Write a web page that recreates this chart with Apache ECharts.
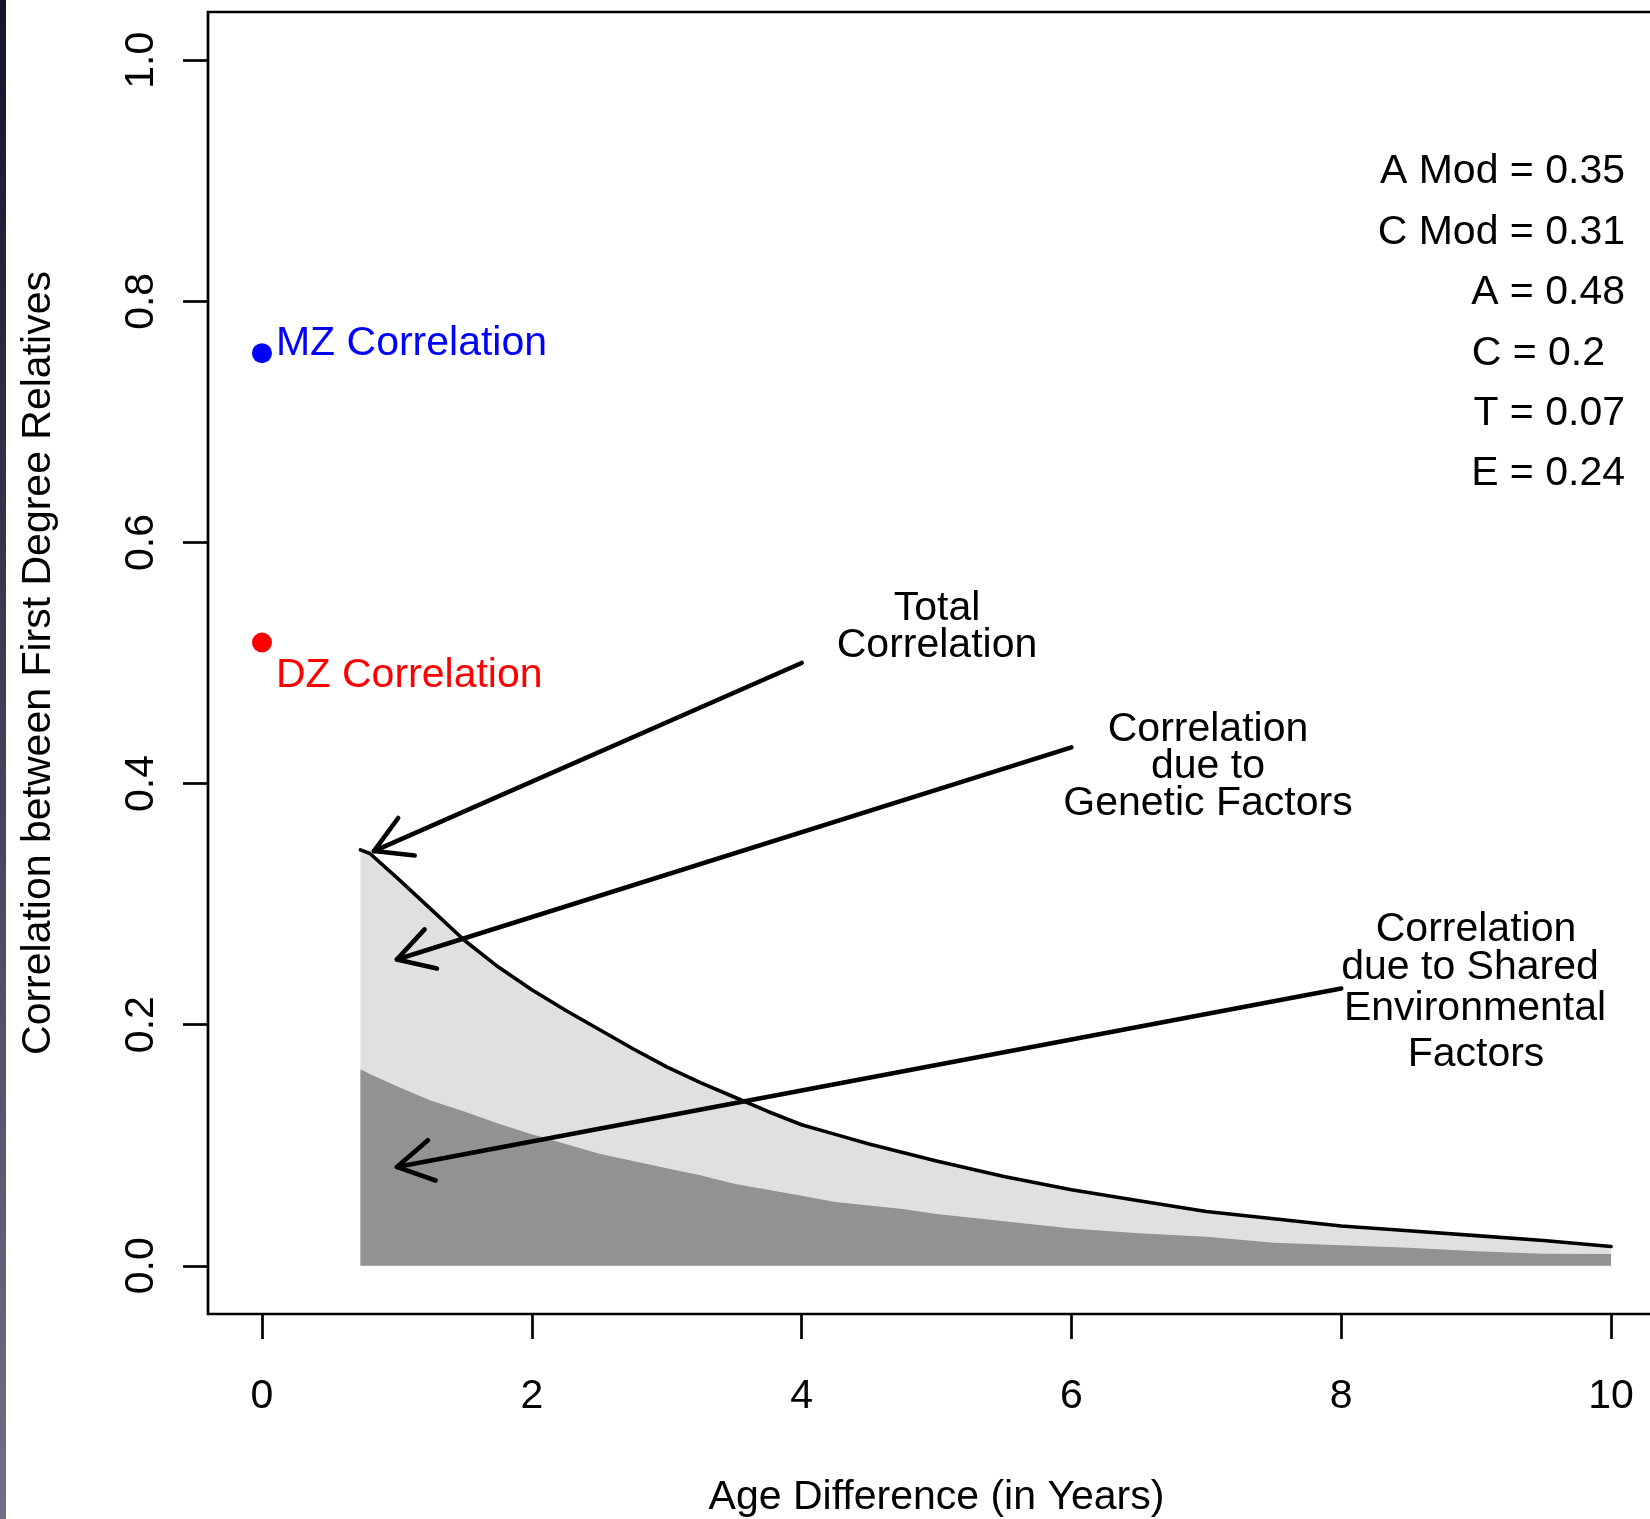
<!DOCTYPE html>
<html><head><meta charset="utf-8">
<script src="https://cdn.jsdelivr.net/npm/echarts@6/dist/echarts.min.js"></script>
<style>html,body{margin:0;padding:0;background:#fff}#chart{width:1650px;height:1519px}</style>
</head><body><div id="chart"></div>
<script>
// ---- data ----
const ageX = [0.73, 0.8, 1.0, 1.25, 1.5, 1.75, 2.0, 2.25, 2.5, 2.75, 3.0, 3.25, 3.5, 3.75, 4.0, 4.25, 4.5, 4.75, 5.0, 5.5, 6.0, 6.5, 7.0, 7.5, 8.0, 8.5, 9.0, 9.5, 10.0];
const totalCorr = [0.345, 0.342, 0.322, 0.296, 0.270, 0.248, 0.229, 0.212, 0.196, 0.180, 0.165, 0.152, 0.140, 0.128, 0.117, 0.109, 0.101, 0.094, 0.087, 0.074, 0.063, 0.054, 0.045, 0.039, 0.033, 0.029, 0.025, 0.021, 0.016];
const sharedEnvCorr = [0.163, 0.159, 0.149, 0.137, 0.128, 0.118, 0.109, 0.101, 0.093, 0.087, 0.081, 0.075, 0.068, 0.063, 0.058, 0.053, 0.050, 0.047, 0.043, 0.037, 0.031, 0.027, 0.024, 0.019, 0.017, 0.015, 0.012, 0.010, 0.0097];
const mzPoint = [0, 0.757];
const dzPoint = [0, 0.517];
const xTicks = [0, 2, 4, 6, 8, 10];
const yTicks = [0, 0.2, 0.4, 0.6, 0.8, 1.0];
const yTickLabels = ['0.0', '0.2', '0.4', '0.6', '0.8', '1.0'];
const paramLabels = ['A Mod = 0.35', 'C Mod = 0.31', 'A = 0.48', 'C = 0.2', 'T = 0.07', 'E = 0.24'];
// arrows: [fromX, fromY, toX, toY]
const arrows = [[4, 0.5, 0.83, 0.344], [6, 0.43, 1.0, 0.254], [8, 0.23, 1.0, 0.082]];

const FONT = '"Liberation Sans", Arial, Helvetica, sans-serif';
const FS = 41;

const totalData = ageX.map((x, i) => [x, totalCorr[i]]);
const sharedData = ageX.map((x, i) => [x, sharedEnvCorr[i]]);

const chart = echarts.init(document.getElementById('chart'), null, {renderer: 'canvas'});

function txt(text, x, y, align) {
  return {type: 'text', x: x, y: y, z: 100,
    style: {text: text, fontSize: FS, fontFamily: FONT, fill: '#000', align: align || 'center', verticalAlign: 'middle'}};
}

const paramY = [172, 232.5, 293, 354, 414, 474];
const paramRight = [1625, 1625, 1625, 1605, 1625, 1625];

const graphics = [
  {type: 'rect', left: 0, top: 0, z: 100, shape: {width: 6, height: 1519},
   style: {fill: new echarts.graphic.LinearGradient(0, 0, 0, 1, [{offset: 0, color: '#15152a'}, {offset: 1, color: '#707084'}])}},
  txt('Total', 937, 609), txt('Correlation', 937, 646),
  txt('Correlation', 1208, 730), txt('due to', 1208, 767), txt('Genetic Factors', 1208, 804),
  txt('Correlation', 1476, 930), txt('due to Shared', 1470, 968), txt('Environmental', 1475, 1009), txt('Factors', 1476, 1055)
];
paramLabels.forEach((t, i) => graphics.push(txt(t, paramRight[i], paramY[i], 'right')));

chart.setOption({
  animation: false,
  backgroundColor: '#fff',
  grid: {left: 208, top: 12, width: 1457, height: 1302, show: true, borderColor: '#000', borderWidth: 2.7,
         backgroundColor: 'transparent', containLabel: false, outerBoundsMode: 'none'},
  xAxis: {
    type: 'value', min: -0.4, max: 10.4,
    name: 'Age Difference (in Years)', nameLocation: 'middle', nameGap: 163,
    nameTextStyle: {fontSize: FS, fontFamily: FONT, color: '#000'},
    axisLine: {show: false, onZero: false},
    axisTick: {show: true, length: 25, lineStyle: {color: '#000', width: 2.7}, customValues: xTicks},
    axisLabel: {show: true, margin: 62, fontSize: FS, fontFamily: FONT, color: '#000', customValues: xTicks, formatter: v => String(v)},
    splitLine: {show: false}
  },
  yAxis: {
    type: 'value', min: -0.04, max: 1.04,
    name: 'Correlation between First Degree Relatives', nameLocation: 'middle', nameGap: 149,
    nameTextStyle: {fontSize: FS, fontFamily: FONT, color: '#000'},
    axisLine: {show: false, onZero: false},
    axisTick: {show: true, length: 25, lineStyle: {color: '#000', width: 2.7}, customValues: yTicks},
    axisLabel: {show: true, rotate: 90, margin: 46, fontSize: FS, fontFamily: FONT, color: '#000', customValues: yTicks,
      formatter: v => { const i = yTicks.findIndex(t => Math.abs(t - v) < 1e-6); return i >= 0 ? yTickLabels[i] : v.toFixed(1); }},
    splitLine: {show: false}
  },
  series: [
    {type: 'line', data: totalData, showSymbol: false, symbol: 'none', lineStyle: {width: 0, opacity: 0},
     areaStyle: {color: '#e0e0e0', opacity: 1}, z: 2, silent: true},
    {type: 'line', data: sharedData, showSymbol: false, symbol: 'none', lineStyle: {width: 0, opacity: 0},
     areaStyle: {color: '#929292', opacity: 1}, z: 3, silent: true},
    {type: 'line', data: totalData, showSymbol: false, symbol: 'none',
     lineStyle: {color: '#000', width: 3.6, cap: 'round', join: 'round'}, z: 4, silent: true},
    {type: 'custom', data: arrows, z: 5, silent: true, clip: false,
     encode: {x: [0, 2], y: [1, 3]},
     renderItem: function (params, api) {
       const p1 = api.coord([api.value(0), api.value(1)]);
       const p2 = api.coord([api.value(2), api.value(3)]);
       const ang = Math.atan2(p1[1] - p2[1], p1[0] - p2[0]);
       const L = 41, a = Math.PI / 6;
       const h1 = [p2[0] + L * Math.cos(ang + a), p2[1] + L * Math.sin(ang + a)];
       const h2 = [p2[0] + L * Math.cos(ang - a), p2[1] + L * Math.sin(ang - a)];
       return {type: 'group', children: [
         {type: 'line', shape: {x1: p1[0], y1: p1[1], x2: p2[0], y2: p2[1]}, style: {stroke: '#000', lineWidth: 4.6, lineCap: 'round'}},
         {type: 'polyline', shape: {points: [h1, p2, h2]}, style: {stroke: '#000', lineWidth: 4.6, lineCap: 'round', lineJoin: 'round', fill: null}}
       ]};
     }},
    {type: 'scatter', data: [mzPoint], symbol: 'circle', symbolSize: 20, itemStyle: {color: '#0000ff', opacity: 1}, z: 6, silent: true,
     label: {show: true, position: 'right', distance: 4, offset: [0, -9], formatter: 'MZ Correlation', color: '#0000ff', opacity: 1, fontSize: FS, fontFamily: FONT}},
    {type: 'scatter', data: [dzPoint], symbol: 'circle', symbolSize: 20, itemStyle: {color: '#ff0000', opacity: 1}, z: 6, silent: true,
     label: {show: true, position: 'right', distance: 4, offset: [0, 33], formatter: 'DZ Correlation', color: '#ff0000', opacity: 1, fontSize: FS, fontFamily: FONT}}
  ],
  graphic: graphics
});
</script>
</body></html>
